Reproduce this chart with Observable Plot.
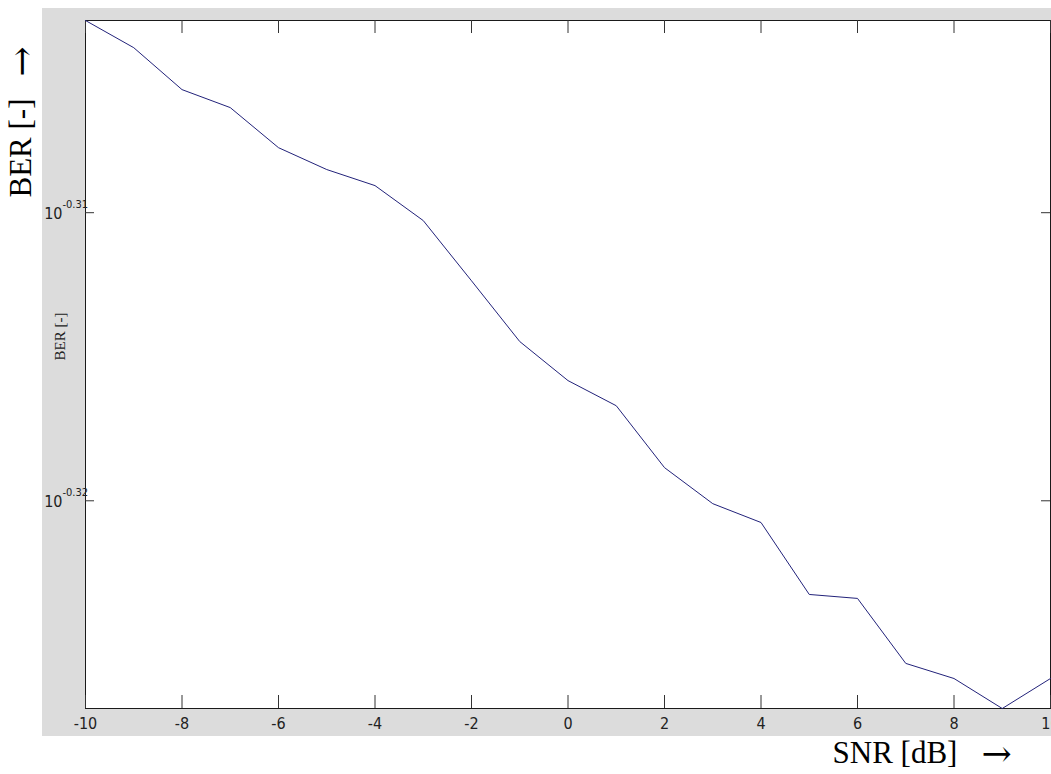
<!DOCTYPE html>
<html><head><meta charset="utf-8">
<script src="https://cdn.jsdelivr.net/npm/d3@7"></script>
<script src="https://cdn.jsdelivr.net/npm/@observablehq/plot@0.6"></script>
<style>html,body{margin:0;padding:0;background:#fff;overflow:hidden}</style>
</head><body><div id="chart"></div>
<script>
// Data
const snr = [-10, -9, -8, -7, -6, -5, -4, -3, -2, -1, 0, 1, 2, 3, 4, 5, 6, 7, 8, 9, 10];
const ber = [0.49736, 0.49628, 0.49462, 0.49391, 0.49233, 0.49147, 0.49084, 0.48947, 0.48712, 0.48476,
             0.48325, 0.48228, 0.47990, 0.47852, 0.47780, 0.47506, 0.47491, 0.47245, 0.47188, 0.47075, 0.47188];
const xTicks = [-10, -8, -6, -4, -2, 0, 2, 4, 6, 8, 10];
const yTickExponents = ["-0.31", "-0.32"];
const yTicks = yTickExponents.map(e => Math.pow(10, +e));
const xLabel = "SNR [dB]";
const yLabel = "BER [-]";
const innerYLabel = "BER [-]";
const arrow = "\u2192";

const data = snr.map((s, i) => ({snr: s, ber: ber[i]}));

const W = 1051, H = 774, mL = 85, mT = 20, mB = 66, mR = 1;
const plotW = W - mL - mR, plotH = H - mT - mB;
const sans = "'Liberation Sans Narrow', 'DejaVu Sans Condensed', 'Arial Narrow', Arial, sans-serif";
const serif = "'Liberation Serif', 'Times New Roman', 'DejaVu Serif', serif";
const arrowFont = "'DejaVu Serif', serif";

const chart = Plot.plot({
  width: W, height: H,
  marginLeft: mL, marginTop: mT, marginBottom: mB, marginRight: mR,
  style: {background: "transparent", overflow: "visible"},
  x: {domain: [-10, 10], axis: null},
  y: {type: "log", domain: d3.extent(ber), axis: null},
  marks: [
    Plot.frame({fill: "white", stroke: "#1a1a1a", strokeWidth: 1}),
    // inward ticks
    Plot.tickX(xTicks, {x: d => d, insetTop: plotH - 13, stroke: "#333"}),
    Plot.tickX(xTicks, {x: d => d, insetBottom: plotH - 13, stroke: "#333"}),
    Plot.tickY(yTicks, {y: d => d, insetRight: plotW - 9, stroke: "#333"}),
    Plot.tickY(yTicks, {y: d => d, insetLeft: plotW - 9, stroke: "#333"}),
    // x tick labels
    Plot.text(xTicks, {x: d => d, text: d => String(d), frameAnchor: "bottom", dy: 15,
      lineAnchor: "middle", fontSize: 16, fontFamily: sans, fill: "#222"}),
    // y tick labels 10^exp
    Plot.text(yTicks, {y: d => d, text: () => "10", frameAnchor: "left", textAnchor: "end",
      dx: -23, dy: 1, lineAnchor: "middle", fontSize: 16, fontFamily: sans, fill: "#222"}),
    Plot.text(yTicks, {y: d => d, text: (d, i) => yTickExponents[i], frameAnchor: "left", textAnchor: "start",
      dx: -23, dy: -8, lineAnchor: "middle", fontSize: 11, fontFamily: sans, fill: "#222"}),
    // inner small y label
    Plot.text([innerYLabel], {frameAnchor: "left", dx: -25, dy: -4, rotate: -90,
      lineAnchor: "middle", fontSize: 15, fontFamily: serif, fill: "#222"}),
    // big outer labels
    Plot.text([yLabel], {frameAnchor: "top-left", dx: -64, dy: 177, rotate: -90, textAnchor: "start",
      lineAnchor: "middle", fontSize: 31, fontFamily: serif, fill: "#000"}),
    Plot.text([arrow], {frameAnchor: "top-left", dx: -63, dy: 41, rotate: -90, textAnchor: "middle",
      lineAnchor: "middle", fontSize: 36, fontFamily: arrowFont, fill: "#000"}),
    Plot.text([xLabel], {frameAnchor: "bottom-right", dx: -218, dy: 45, textAnchor: "start",
      lineAnchor: "middle", fontSize: 31, fontFamily: serif, fill: "#000"}),
    Plot.text([arrow], {frameAnchor: "bottom-right", dx: -54, dy: 46, textAnchor: "middle",
      lineAnchor: "middle", fontSize: 36, fontFamily: arrowFont, fill: "#000"}),
    // data line
    Plot.line(data, {x: "snr", y: "ber", stroke: "#22227a", strokeWidth: 1})
  ]
});

// grey figure background behind the axes box
d3.select(chart).insert("rect", ":first-child")
  .attr("x", mL - 43).attr("y", mT - 12)
  .attr("width", W - (mL - 43)).attr("height", plotH + 40)
  .attr("fill", "#dcdcdc");

document.getElementById("chart").appendChild(chart);
</script>
</body></html>
